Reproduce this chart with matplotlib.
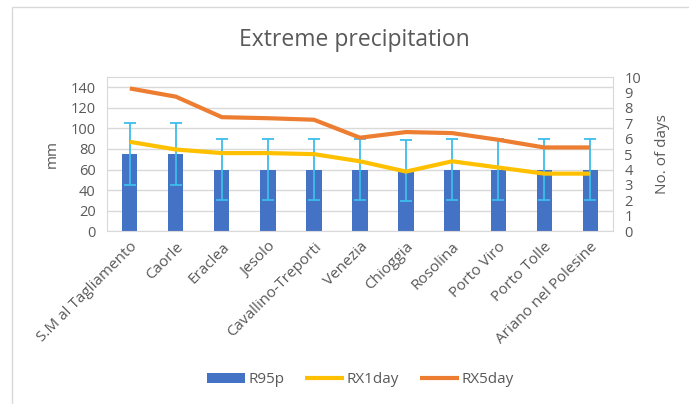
import numpy as np
import matplotlib
matplotlib.use("Agg")
import matplotlib.pyplot as plt
from matplotlib.patches import Rectangle

plt.rcParams["font.family"] = ["Open Sans", "DejaVu Sans"]

stations = ["S.M al Tagliamento", "Caorle", "Eraclea", "Jesolo", "Cavallino-Treporti",
            "Venezia", "Chioggia", "Rosolina", "Porto Viro", "Porto Tolle",
            "Ariano nel Polesine"]
r95p = [75, 75, 60, 60, 60, 60, 59, 60, 60, 60, 60]
r95p_err = [30, 30, 30, 30, 30, 30, 30, 30, 30, 30, 30]
rx1day = [87, 79.5, 76, 76, 75, 68, 58, 68, 62, 56, 56]
rx5day = [139, 131, 111, 110, 108.5, 91, 96.5, 95.5, 89, 81.5, 81.5]

grey = "#595959"

fig = plt.figure(figsize=(6.89, 4.04), dpi=100)
ax = fig.add_axes([0.155, 0.428, 0.735, 0.381])
x = np.arange(len(stations))

ax.bar(x, r95p, width=0.33, color="#4472C4", label="R95p", zorder=2)
ax.errorbar(x, r95p, yerr=r95p_err, fmt="none", ecolor="#3DBDEB",
            elinewidth=1.3, capsize=4, capthick=1.3, zorder=3)
ax.plot(x, rx1day, color="#FFC000", lw=3, label="RX1day", zorder=4,
        solid_capstyle="butt")
ax.plot(x, rx5day, color="#ED7D31", lw=3, label="RX5day", zorder=4,
        solid_capstyle="butt")

ax.set_ylim(0, 150)
ax.set_yticks(range(0, 141, 20))
ax.set_xlim(-0.5, len(stations) - 0.5)
ax.set_xticks(x)
ax.set_xticklabels(stations, rotation=45, ha="right", rotation_mode="anchor",
                   fontsize=11, color=grey)
ax.tick_params(axis="x", length=0, pad=6)
ax.tick_params(axis="y", length=0, labelsize=10.5, labelcolor=grey, pad=8)
ax.set_ylabel("mm", fontsize=11, color=grey, labelpad=8)
ax.grid(axis="y", color="#D9D9D9", lw=1, zorder=0)
ax.set_axisbelow(True)
for s in ["top", "right", "left", "bottom"]:
    ax.spines[s].set_color("#D9D9D9")

ax2 = ax.twinx()
ax2.set_ylim(0, 10)
ax2.set_yticks(range(0, 11))
ax2.tick_params(axis="y", length=0, labelsize=10.5, labelcolor=grey, pad=8)
ax2.set_ylabel("No. of days", fontsize=11, color=grey, labelpad=10)
for s in ["top", "right", "left", "bottom"]:
    ax2.spines[s].set_visible(False)

fig.text(0.515, 0.9, "Extreme precipitation", ha="center", va="center",
         fontsize=16.5, color=grey)

handles, labels = ax.get_legend_handles_labels()
order = [2, 0, 1]
fig.legend([handles[i] for i in order], [labels[i] for i in order],
           loc="center", bbox_to_anchor=(0.523, 0.06), ncol=3, frameon=False,
           fontsize=11, labelcolor=grey, handlelength=2.5, handletextpad=0.2,
           columnspacing=1.4)

fig.patches.append(Rectangle((12 / 689, -0.05), 1.2, 1.05 - 7 / 404,
                             transform=fig.transFigure, fill=False,
                             edgecolor="#D9D9D9", lw=1))

fig.savefig("out.png", dpi=100)
